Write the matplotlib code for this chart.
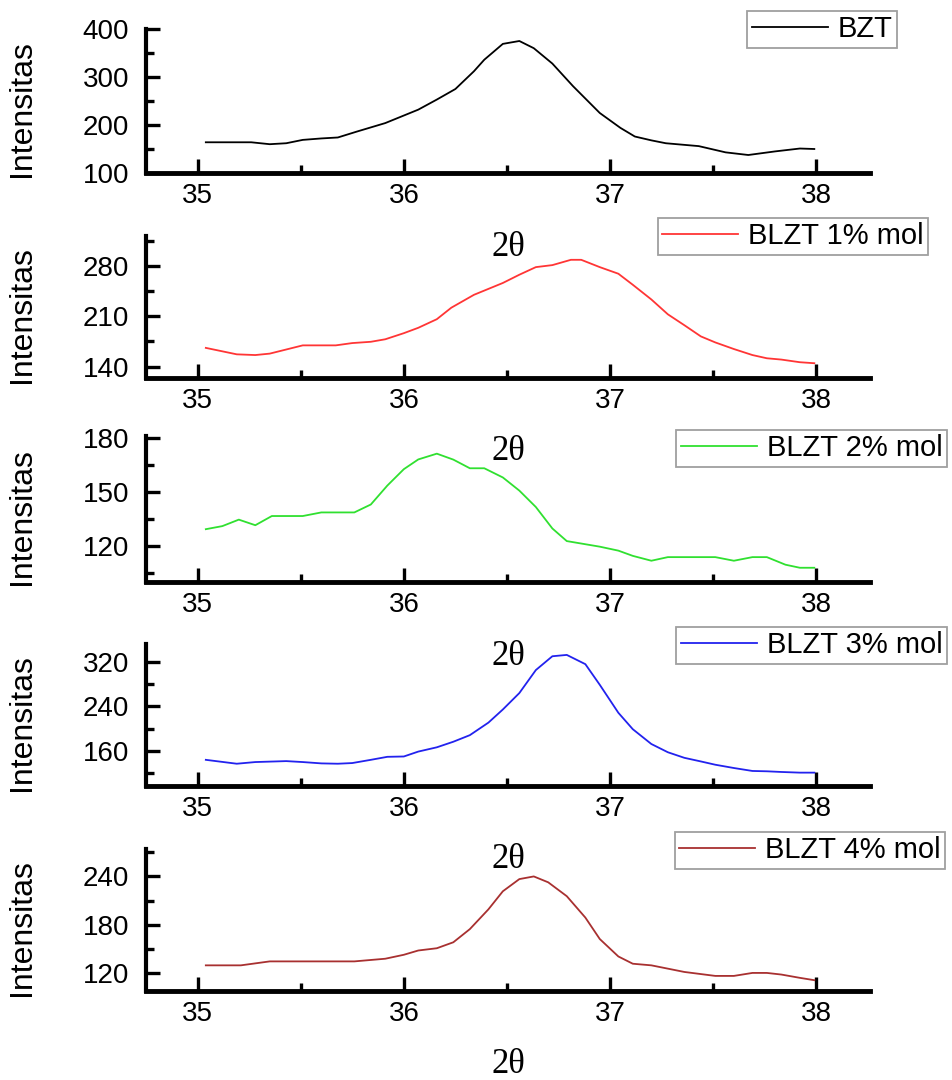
import numpy as np
import matplotlib
matplotlib.use("Agg")
from matplotlib import pyplot as plt
from matplotlib.ticker import MultipleLocator

plt.rcParams['font.family'] = ['Liberation Sans', 'DejaVu Sans']

# --- data (2theta, intensity) ---
x_bzt = [35.04, 35.26, 35.35, 35.43, 35.51, 35.60, 35.68, 35.77, 35.91, 36.07, 36.16, 36.25, 36.34,
         36.39, 36.48, 36.56, 36.63, 36.72, 36.82, 36.95, 37.05, 37.12, 37.20, 37.27, 37.43, 37.56,
         37.67, 37.80, 37.92, 37.99]
y_bzt = [164, 164, 160, 162, 169, 172, 174, 186, 204, 232, 253, 275, 312,
         336, 369, 375, 360, 328, 281, 225, 194, 176, 168, 162, 156, 143,
         137.5, 145, 151, 150]

x_1 = [35.04, 35.19, 35.28, 35.35, 35.51, 35.67, 35.75, 35.84, 35.91, 36.00, 36.07, 36.16, 36.23,
       36.34, 36.48, 36.56, 36.64, 36.72, 36.81, 36.86, 36.95, 37.04, 37.11, 37.20, 37.28, 37.36,
       37.44, 37.51, 37.60, 37.69, 37.76, 37.83, 37.92, 37.99]
y_1 = [166, 157, 156, 158, 169.5, 169.5, 172.7, 174.5, 178, 186.5, 194, 206, 222,
       240, 256.5, 268, 278.6, 281.4, 288.8, 288.8, 278.6, 269.4, 254, 233.5, 212.8, 197.6,
       182, 173.6, 164.4, 156, 151.5, 149.7, 146, 144.6]

x_2 = [35.04, 35.12, 35.20, 35.28, 35.36, 35.51, 35.60, 35.76, 35.84, 35.92, 36.00, 36.07, 36.16,
       36.24, 36.32, 36.39, 36.48, 36.56, 36.64, 36.72, 36.79, 36.95, 37.04, 37.11, 37.20, 37.28,
       37.51, 37.60, 37.69, 37.76, 37.85, 37.92, 37.99]
y_2 = [129.3, 131, 134.6, 131.5, 136.6, 136.6, 138.6, 138.6, 143, 153.5, 162.6, 168, 171.2,
       167.9, 163.1, 163.1, 158, 150.7, 141.6, 129.7, 122.7, 119.6, 117.4, 114.5, 111.8, 113.8,
       113.8, 111.8, 113.8, 113.8, 109.6, 107.9, 107.9]

x_3 = [35.04, 35.19, 35.28, 35.43, 35.51, 35.60, 35.68, 35.75, 35.84, 35.92, 36.00, 36.07, 36.16,
       36.24, 36.32, 36.41, 36.48, 36.56, 36.64, 36.72, 36.79, 36.88, 36.95, 37.04, 37.11, 37.20,
       37.28, 37.36, 37.44, 37.51, 37.60, 37.69, 37.76, 37.83, 37.92, 37.99]
y_3 = [144, 137, 140, 141.7, 140, 137.6, 137, 138.2, 144, 149.4, 150, 158.8, 166.5,
       176.5, 188.3, 210.8, 234.4, 263.9, 305.2, 330, 332.4, 315.8, 278.7, 228.5, 199, 172.4,
       157.6, 147.6, 141.1, 135.2, 129.3, 124, 123.4, 122.2, 121, 121]

x_4 = [35.04, 35.21, 35.35, 35.51, 35.76, 35.91, 36.00, 36.07, 36.16, 36.24, 36.32, 36.41, 36.48,
       36.56, 36.63, 36.70, 36.79, 36.88, 36.95, 37.04, 37.11, 37.20, 37.28, 37.36, 37.51, 37.60,
       37.69, 37.76, 37.83, 37.92, 37.99]
y_4 = [129.8, 129.8, 134.7, 134.7, 134.7, 138, 142.9, 148.2, 151, 158.4, 174.7, 199.2, 221.6,
       236.7, 240, 232.7, 215.5, 189, 162.4, 140.8, 131.8, 129.8, 125.7, 121.6, 116.7, 116.7,
       120.4, 120.4, 118.4, 114.3, 111.4]

labels = ['BZT', 'BLZT 1% mol', 'BLZT 2% mol', 'BLZT 3% mol', 'BLZT 4% mol']
colors = ['#000000', '#ff3535', '#30e030', '#2222ee', '#a83030']
series = [(x_bzt, y_bzt), (x_1, y_1), (x_2, y_2), (x_3, y_3), (x_4, y_4)]

y_lims = [(100, 400), (124, 322), (100, 181), (97, 352), (98, 274)]
y_major = [[100, 200, 300, 400], [140, 210, 280], [120, 150, 180], [160, 240, 320], [120, 180, 240]]
y_minor = [[150, 250, 350], [175, 245, 315], [105, 135, 165], [120, 200, 280], [150, 210, 270]]

# panel boxes in pixels (top, bottom) and legend (right, top)
W, H = 953, 1080
boxes = [(29, 173), (236, 378), (436, 582), (644, 786), (849, 991)]
leg_pos = [(897, 11), (928, 218), (947, 430), (947, 627), (945, 832)]

fig = plt.figure(figsize=(W / 100, H / 100), dpi=100)

for i, (xs, ys) in enumerate(series):
    top, bot = boxes[i]
    ax = fig.add_axes([146 / W, 1 - bot / H, 724 / W, (bot - top) / H])
    ax.plot(xs, ys, color=colors[i], lw=1.3, label=labels[i])
    ax.set_xlim(34.75, 38.26)
    ax.set_ylim(*y_lims[i])
    ax.set_xticks([35, 36, 37, 38])
    ax.xaxis.set_minor_locator(MultipleLocator(0.5))
    ax.set_yticks(y_major[i])
    ax.set_yticks(y_minor[i], minor=True)
    for s in ['top', 'right']:
        ax.spines[s].set_visible(False)
    ax.spines['left'].set_linewidth(3)
    ax.spines['bottom'].set_linewidth(3.5)
    ax.tick_params(axis='x', which='major', direction='in', length=10, width=2.4, labelsize=20, pad=7)
    ax.tick_params(axis='x', which='minor', direction='in', length=6, width=2.4)
    ax.tick_params(axis='y', which='major', direction='in', length=10, width=2.4, labelsize=20, pad=12)
    ax.tick_params(axis='y', which='minor', direction='in', length=6, width=2.4)
    ax.patch.set_alpha(0)

    ax.set_ylabel('Intensitas', fontsize=23)
    ax.yaxis.set_label_coords(-0.15, 0.45)
    ax.set_xlabel('2θ', fontsize=25, family=['Liberation Serif', 'DejaVu Serif'])
    ax.xaxis.set_label_coords(0.5, -0.40)

    r, t = leg_pos[i]
    leg = ax.legend(loc='upper right', bbox_to_anchor=(r / W, 1 - t / H), bbox_transform=fig.transFigure,
                    fontsize=21, frameon=True, fancybox=False, borderaxespad=0, borderpad=0.15,
                    handlelength=2.6, handletextpad=0.35)
    leg.get_frame().set_edgecolor('#888888')
    leg.get_frame().set_linewidth(1.3)

plt.savefig('out.png', dpi=100)
